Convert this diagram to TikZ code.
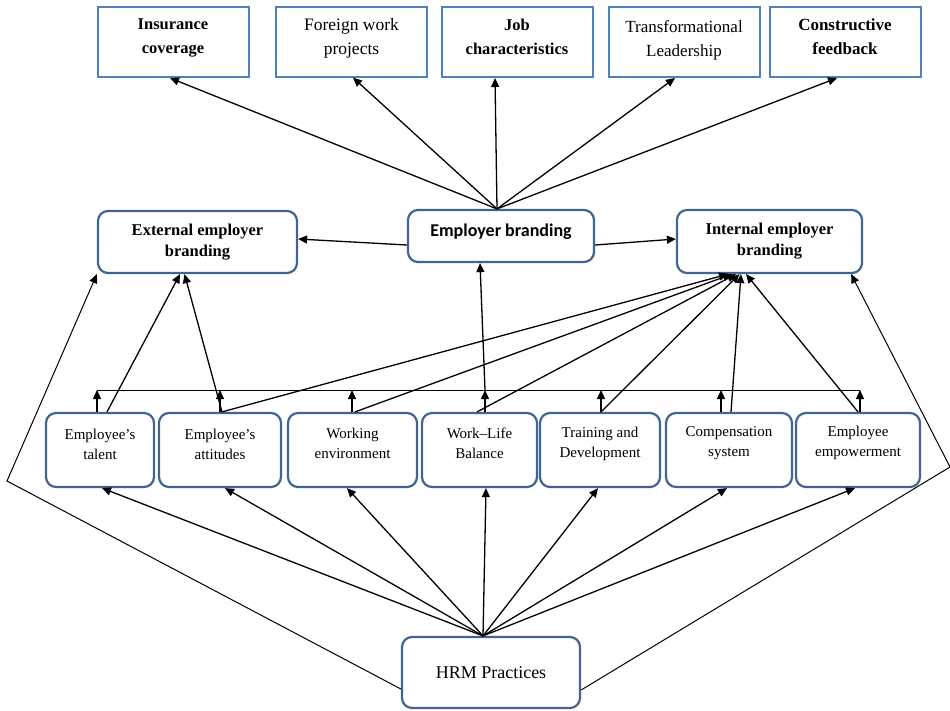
\documentclass[tikz,border=0pt]{standalone}
\usepackage{fontspec}
\setmainfont{Liberation Serif}
\newfontfamily\carl{Carlito}
\usetikzlibrary{arrows.meta,calc}
\definecolor{topblue}{RGB}{79,129,189}
\definecolor{rblue}{RGB}{65,100,145}
\begin{document}
\begin{tikzpicture}[x=1pt,y=-1pt,
  topbox/.style={draw=topblue,line width=2pt,minimum height=70pt,minimum width=151pt,inner sep=0pt},
  rbox/.style={draw=rblue,line width=2.2pt,rounded corners=10pt,inner sep=0pt},
  fbox/.style={rbox,minimum height=74pt},
  toplbl/.style={align=center,inner sep=0pt,font=\fontsize{17}{24}\selectfont},
  toplblb/.style={align=center,inner sep=0pt,font=\bfseries\fontsize{16.5}{24}\selectfont},
  midlbl/.style={align=center,inner sep=0pt,font=\bfseries\fontsize{16.5}{21}\selectfont},
  flbl/.style={align=center,inner sep=0pt,font=\fontsize{15}{20}\selectfont},
  arr/.style={-{Triangle[length=9pt,width=8pt]},line width=1.3pt},
  thinline/.style={line width=0.9pt},
  larr/.style={-{Triangle[length=9pt,width=8pt]},line width=1pt}]
\useasboundingbox (0,0) rectangle (950,710);

% top boxes
\node[topbox] (ins) at (173,42) {};
\node[topbox,line width=1.2pt] (forw) at (351.5,42) {};
\node[topbox] (job) at (517,42) {};
\node[topbox] (trans) at (684,42) {};
\node[topbox] (cons) at (845,42) {};
\node[toplblb] (insT) at ([yshift=4pt]ins.center) {Insurance\\coverage};
\node[toplbl,font=\fontsize{17.5}{24}\selectfont] (forwT) at ([yshift=4pt]forw.center) {Foreign work\\projects};
\node[toplblb] (jobT) at ([yshift=5pt]job.center) {Job\\characteristics};
\node[toplbl] (transT) at ([yshift=2pt]trans.center) {Transformational\\Leadership};
\node[toplblb,font=\bfseries\fontsize{17}{24}\selectfont] (consT) at ([yshift=5pt]cons.center) {Constructive\\feedback};

% middle boxes
\node[rbox,minimum width=199pt,minimum height=62pt] (ext) at (197.5,242) {};
\node[rbox,minimum width=186pt,minimum height=52pt] (eb) at (501,236) {};
\node[rbox,minimum width=185pt,minimum height=63pt] (int) at (769.5,241.5) {};
\node[midlbl] (extT) at (ext.center) {External employer\\branding};
\node[inner sep=0pt,font=\carl\bfseries\fontsize{18}{20}\selectfont] (ebT) at ([yshift=4pt]eb.center) {Employer branding};
\node[midlbl] (intT) at (int.center) {Internal employer\\branding};

% factor boxes
\node[fbox,minimum width=108pt] (tal) at (100,450) {};
\node[fbox,minimum width=122pt] (att) at (220,450) {};
\node[fbox,minimum width=129pt] (work) at (352.5,450) {};
\node[fbox,minimum width=115pt] (wlb) at (479.5,450) {};
\node[fbox,minimum width=120pt] (td) at (600,450) {};
\node[fbox,minimum width=126pt] (comp) at (729,450) {};
\node[fbox,minimum width=124pt] (emp) at (858,450) {};
\node[flbl] (talT) at ([yshift=6pt]tal.center) {Employee’s\\talent};
\node[flbl] (attT) at ([yshift=6pt]att.center) {Employee’s\\attitudes};
\node[flbl] (workT) at ([yshift=7pt]work.center) {Working\\environment};
\node[flbl] (wlbT) at ([yshift=7pt]wlb.center) {Work–Life\\Balance};
\node[flbl] (tdT) at ([yshift=6pt]td.center) {Training and\\Development};
\node[flbl] (compT) at ([yshift=7pt]comp.center) {Compensation\\system};
\node[flbl] (empT) at ([yshift=7pt]emp.center) {Employee\\empowerment};

% HRM
\node[rbox,minimum width=178pt,minimum height=71pt] (hrm) at (491,672.5) {};
\node[inner sep=0pt,font=\fontsize{18}{22}\selectfont] (hrmT) at (hrm.center) {HRM Practices};

% employer branding to top boxes
\coordinate (ebtop) at ([xshift=-4pt]eb.north);
\draw[arr] (ebtop) -- ([xshift=-3pt]ins.south);
\draw[arr] (ebtop) -- ([xshift=1.5pt]forw.south);
\draw[arr] (ebtop) -- ([xshift=-22pt]job.south);
\draw[arr] (ebtop) -- ([xshift=-9pt]trans.south);
\draw[arr] (ebtop) -- ([xshift=-8pt]cons.south);

% employer branding to external/internal
\draw[arr] ([yshift=-9pt]eb.west) -- ([yshift=3pt]ext.east);
\draw[arr] ([yshift=-9pt]eb.east) -- ([yshift=2.5pt]int.west);

% horizontal bar
\coordinate (h1) at (97,390);
\coordinate (h2) at (220,390);
\coordinate (h3) at (352,390);
\coordinate (h4) at (485,390);
\coordinate (h5) at (601,390);
\coordinate (h6) at (721,390);
\coordinate (h7) at (860,390);
\draw[thinline] (h1) -- (h7);
\draw[arr] (tal.north -| h1) -- (h1);
\draw[arr] (att.north -| h2) -- (h2);
\draw[arr] (work.north -| h3) -- (h3);
\draw[arr] (wlb.north -| h4) -- (h4);
\draw[arr] (td.north -| h5) -- (h5);
\draw[arr] (comp.north -| h6) -- (h6);
\draw[arr] (emp.north -| h7) -- (h7);
\draw[arr] (h4) -- ([xshift=-21pt]eb.south);

% factors to external / internal
\draw[arr] ([xshift=7pt]tal.north) -- ([xshift=-17.5pt]ext.south);
\draw[arr] ([xshift=2pt]att.north) -- ([xshift=-13pt]ext.south);
\draw[arr] ([xshift=2pt]att.north) -- ([xshift=-41.5pt]int.south);
\draw[arr] ([xshift=2.5pt]work.north) -- ([xshift=-37.5pt]int.south);
\draw[arr] ([xshift=-2.5pt]wlb.north) -- ([xshift=-33.5pt]int.south);
\draw[arr] ([xshift=1pt]td.north) -- ([xshift=-30pt]int.south);
\draw[arr] ([xshift=2pt]comp.north) -- ([xshift=-28.5pt]int.south);
\draw[arr] (emp.north) -- ([xshift=-23.5pt]int.south);

% HRM to factors
\coordinate (hrmtop) at ([xshift=-8pt]hrm.north);
\draw[arr] (hrmtop) -- ([xshift=2pt]tal.south);
\draw[arr] (hrmtop) -- ([xshift=5pt]att.south);
\draw[arr] (hrmtop) -- ([xshift=-5.5pt]work.south);
\draw[arr] (hrmtop) -- ([xshift=6.5pt]wlb.south);
\draw[arr] (hrmtop) -- ([xshift=-2pt]td.south);
\draw[arr] (hrmtop) -- ([xshift=-2pt]comp.south);
\draw[arr] (hrmtop) -- ([xshift=-3pt]emp.south);

% long side lines
\coordinate (lc) at (7,481);
\coordinate (rc) at (950,467);
\draw[larr] ([yshift=-16.5pt]hrm.west) -- (lc) -- (ext.south west);
\draw[larr] ([yshift=-17.5pt]hrm.east) -- (rc) -- ([xshift=-12pt]int.south east);
\end{tikzpicture}
\end{document}
